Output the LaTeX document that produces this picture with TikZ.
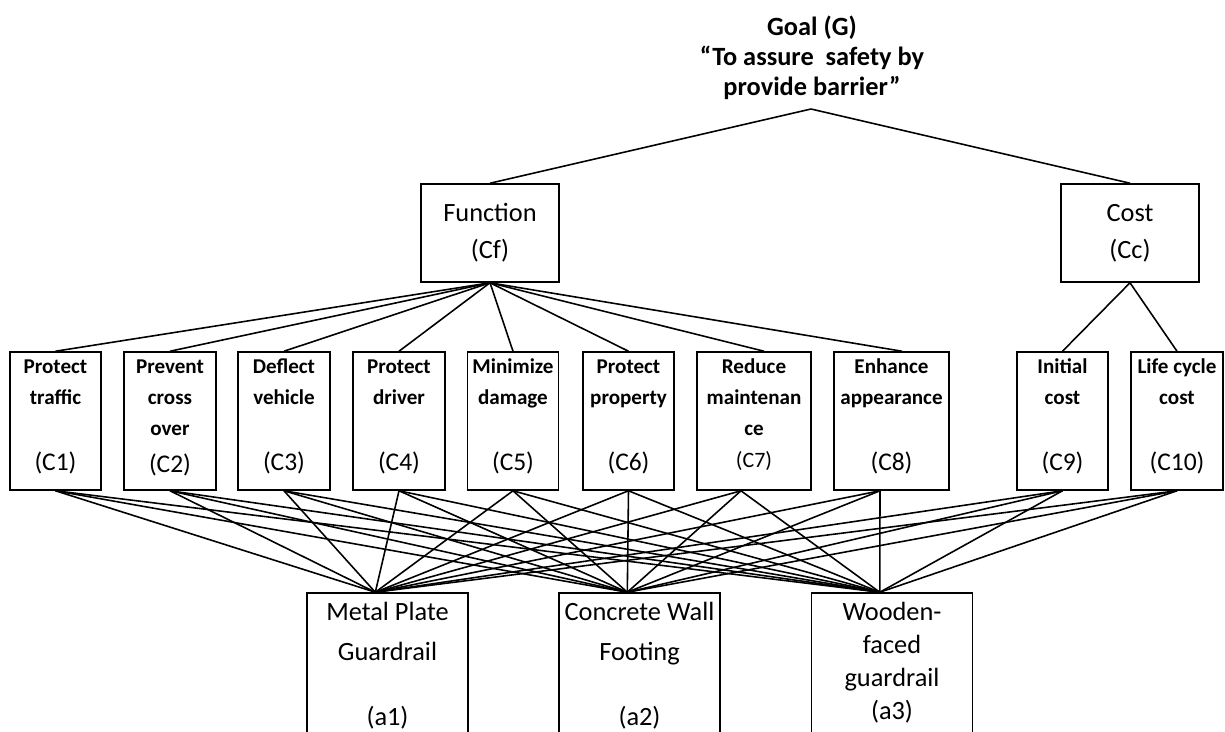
\documentclass[tikz,border=0pt]{standalone}
\usepackage{fontspec}
\setmainfont{Carlito}
\usetikzlibrary{calc}

\tikzset{
  box/.style={draw, line width=0.9pt, inner sep=0pt},
  mainbox/.style={box, minimum width=2.76cm, minimum height=1.96cm, align=center, font=\fontsize{15}{21}\selectfont},
  critbox/.style={box, minimum height=2.76cm},
  altbox/.style={box, minimum width=3.22cm, minimum height=3.2cm},
  goaltext/.style={align=center, inner sep=0pt, font=\bfseries\fontsize{15}{17}\selectfont},
  crittext/.style={anchor=north, inner sep=0pt, align=center, font=\bfseries\fontsize{12}{17.6}\selectfont},
  critlabel/.style={anchor=base, inner sep=0pt, font=\fontsize{14.5}{17}\selectfont},
  alttext/.style={anchor=north, inner sep=0pt, align=center, font=\fontsize{15}{22.7}\selectfont},
  link/.style={line width=0.9pt},
}

\begin{document}
\begin{tikzpicture}[x=0.02cm, y=-0.02cm]
\clip (0,0) rectangle (1225,731);

% goal
\node[goaltext] (goal) at (812,58) {Goal (G)\\“To assure\ \ safety by\\provide barrier”};
\coordinate (apex) at (811,109);

% function and cost
\node[mainbox] (cf) at (490,233) {Function\\(Cf)};
\node[mainbox] (cc) at (1130,233) {Cost\\(Cc)};

% criteria
\node[critbox, minimum width=1.82cm] (c1) at (55.5,421) {};
\node[critbox, minimum width=1.84cm] (c2) at (170,421) {};
\node[critbox, minimum width=1.84cm] (c3) at (284,421) {};
\node[critbox, minimum width=1.84cm] (c4) at (399,421) {};
\node[critbox, minimum width=1.82cm] (c5) at (513,421) {};
\node[critbox, minimum width=1.82cm] (c6) at (628.5,421) {};
\node[critbox, minimum width=2.28cm] (c7) at (754,421) {};
\node[critbox, minimum width=2.3cm] (c8) at (891.5,421) {};
\node[critbox, minimum width=1.82cm] (c9) at (1062.5,421) {};
\node[critbox, minimum width=1.84cm] (c10) at (1177,421) {};

\node[crittext] (c1t) at (c1.north) {\strut Protect\\traffic};
\node[crittext] (c2t) at (c2.north) {\strut Prevent\\cross\\over};
\node[crittext] (c3t) at (c3.north) {\strut Deflect\\vehicle};
\node[crittext] (c4t) at (c4.north) {\strut Protect\\driver};
\node[crittext] (c5t) at (c5.north) {\strut Minimize\\damage};
\node[crittext] (c6t) at (c6.north) {\strut Protect\\property};
\node[crittext] (c7t) at (c7.north) {\strut Reduce\\maintenan\\ce};
\node[crittext] (c8t) at (c8.north) {\strut Enhance\\appearance};
\node[crittext] (c9t) at (c9.north) {\strut Initial\\cost};
\node[crittext] (c10t) at (c10.north) {\strut Life cycle\\cost};

\node[critlabel] (c1l) at ($(c1.south)+(0,-20)$) {(C1)};
\node[critlabel] (c2l) at ($(c2.south)+(0,-18)$) {(C2)};
\node[critlabel] (c3l) at ($(c3.south)+(0,-20)$) {(C3)};
\node[critlabel] (c4l) at ($(c4.south)+(0,-20)$) {(C4)};
\node[critlabel] (c5l) at ($(c5.south)+(0,-20)$) {(C5)};
\node[critlabel] (c6l) at ($(c6.south)+(0,-20)$) {(C6)};
\node[critlabel, font=\fontsize{12.5}{15}\selectfont] (c7l) at ($(c7.south)+(0,-23)$) {(C7)};
\node[critlabel] (c8l) at ($(c8.south)+(0,-20)$) {(C8)};
\node[critlabel] (c9l) at ($(c9.south)+(0,-20)$) {(C9)};
\node[critlabel] (c10l) at ($(c10.south)+(0,-20)$) {(C10)};

% alternatives
\node[altbox] (a1) at (387.5,673) {};
\node[altbox] (a2) at (639.5,673) {};
\node[altbox] (a3) at (892,673) {};

\node[alttext] (a1t) at (a1.north) {\strut Metal Plate\\Guardrail};
\node[alttext] (a2t) at (a2.north) {\strut Concrete Wall\\Footing};
\node[alttext, font=\fontsize{15}{18.7}\selectfont] (a3t) at ($(a3.north)+(0,5)$) {\strut Wooden-\\faced\\guardrail\\(a3)};
\node[critlabel, font=\fontsize{15}{17}\selectfont] (a1l) at ($(a1.north)+(0,133)$) {(a1)};
\node[critlabel, font=\fontsize{15}{17}\selectfont] (a2l) at ($(a2.north)+(0,133)$) {(a2)};

% attach points
\coordinate (c7top) at ($(c7.north)+(10,0)$);
\coordinate (c8top) at ($(c8.north)+(10.5,0)$);
\coordinate (c7bot) at ($(c7.south)+(-13,0)$);
\coordinate (c8bot) at ($(c8.south)+(-11.5,0)$);
\coordinate (a1top) at ($(a1.north west)!0.425!(a1.north east)$);
\coordinate (a2top) at ($(a2.north west)!0.425!(a2.north east)$);
\coordinate (a3top) at ($(a3.north west)!0.425!(a3.north east)$);

% links
\draw[link] (cf.north) -- (apex) -- (cc.north);

\path[link] (cf.south) edge (c1.north) edge (c2.north) edge (c3.north)
                       edge (c4.north) edge (c5.north) edge (c6.north)
                       edge (c7top) edge (c8top)
            (cc.south) edge (c9.north) edge (c10.north);

\path[link] (c1.south) edge (a1top) edge (a2top) edge (a3top)
            (c2.south) edge (a1top) edge (a2top) edge (a3top)
            (c3.south) edge (a1top) edge (a2top) edge (a3top)
            (c4.south) edge (a1top) edge (a2top) edge (a3top)
            (c5.south) edge (a1top) edge (a2top) edge (a3top)
            (c6.south) edge (a1top) edge (a2top) edge (a3top)
            (c7bot) edge (a1top) edge (a2top) edge (a3top)
            (c8bot) edge (a1top) edge (a2top) edge (a3top)
            (c9.south) edge (a1top) edge (a2top) edge (a3top)
            (c10.south) edge (a1top) edge (a2top) edge (a3top);

\end{tikzpicture}
\end{document}
